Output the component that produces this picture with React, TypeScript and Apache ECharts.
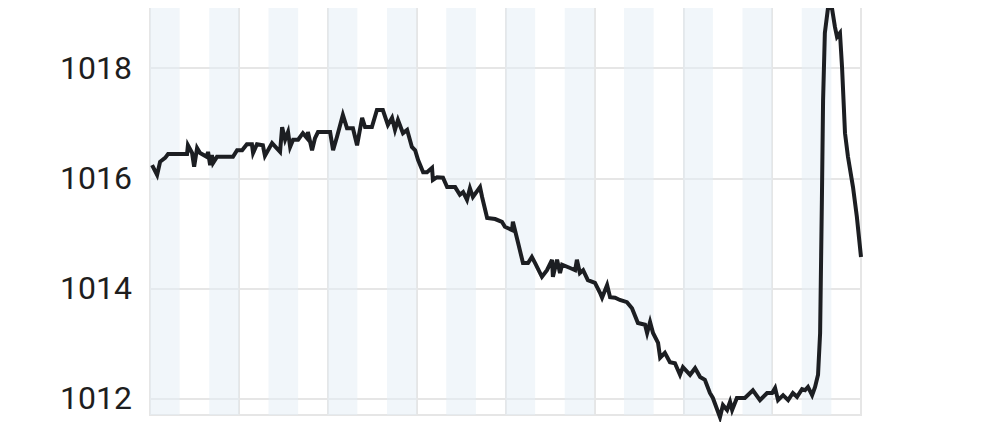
import React, { useEffect, useRef } from "react";
import * as echarts from "echarts";

// Hours since start of the 24-hour window
const hours: number[] = [
  0.07, 0.24, 0.34, 0.51, 0.61, 0.74, 1.25, 1.28, 1.42, 1.49, 1.59, 1.69, 1.92, 1.96, 2.03, 2.09, 2.13, 2.26,
  2.8, 2.94, 3.11, 3.27, 3.44, 3.48, 3.61, 3.81, 3.88, 4.12, 4.39, 4.46, 4.56, 4.66, 4.73, 4.83, 5.0, 5.16,
  5.3, 5.33, 5.47, 5.57, 5.67, 6.08, 6.18, 6.31, 6.51, 6.65, 6.85, 6.99, 7.16, 7.26, 7.49, 7.66, 7.86, 8.03,
  8.17, 8.27, 8.37, 8.54, 8.68, 8.84, 8.95, 9.05, 9.22, 9.35, 9.52, 9.55, 9.69, 9.89, 10.03, 10.3, 10.46,
  10.57, 10.7, 10.8, 10.9, 11.14, 11.21, 11.38, 11.65, 11.88, 11.98, 12.22, 12.25, 12.42, 12.59, 12.76,
  12.89, 13.0, 13.23, 13.4, 13.57, 13.6, 13.74, 13.84, 13.91, 14.18, 14.35, 14.41, 14.51, 14.62, 14.78,
  15.02, 15.19, 15.26, 15.43, 15.53, 15.7, 15.86, 16.1, 16.27, 16.47, 16.71, 16.78, 16.88, 16.98, 17.15,
  17.22, 17.38, 17.55, 17.72, 17.89, 17.99, 18.23, 18.4, 18.57, 18.73, 18.9, 19.0, 19.24, 19.34, 19.48,
  19.58, 19.65, 19.81, 20.08, 20.35, 20.59, 20.83, 21.0, 21.1, 21.2, 21.37, 21.54, 21.7, 21.84, 22.01,
  22.11, 22.21, 22.35, 22.45, 22.55, 22.62, 22.68, 22.72, 22.78, 22.89, 23.02, 23.12, 23.19, 23.29, 23.36,
  23.46, 23.56, 23.73, 23.86, 24.0,
];

// Pressure (hPa)
const pressure: number[] = [
  1016.24, 1016.06, 1016.3, 1016.37, 1016.44, 1016.44, 1016.44, 1016.6, 1016.46, 1016.21, 1016.55, 1016.46,
  1016.39, 1016.48, 1016.24, 1016.42, 1016.28, 1016.39, 1016.39, 1016.51, 1016.51, 1016.62, 1016.62, 1016.46,
  1016.62, 1016.6, 1016.41, 1016.64, 1016.48, 1016.93, 1016.7, 1016.84, 1016.57, 1016.7, 1016.7, 1016.82,
  1016.73, 1016.84, 1016.51, 1016.73, 1016.84, 1016.84, 1016.51, 1016.75, 1017.15, 1016.91, 1016.91, 1016.6,
  1017.1, 1016.93, 1016.93, 1017.24, 1017.24, 1016.97, 1017.1, 1016.88, 1017.06, 1016.82, 1016.88, 1016.57,
  1016.51, 1016.33, 1016.11, 1016.11, 1016.19, 1015.97, 1016.02, 1016.01, 1015.84, 1015.84, 1015.7, 1015.75,
  1015.61, 1015.82, 1015.66, 1015.84, 1015.66, 1015.28, 1015.26, 1015.21, 1015.12, 1015.06, 1015.21, 1014.84,
  1014.46, 1014.46, 1014.57, 1014.46, 1014.21, 1014.33, 1014.52, 1014.21, 1014.52, 1014.28, 1014.43, 1014.37,
  1014.33, 1014.52, 1014.28, 1014.33, 1014.15, 1014.1, 1013.92, 1013.83, 1014.06, 1013.84, 1013.83, 1013.79,
  1013.75, 1013.64, 1013.37, 1013.34, 1013.19, 1013.39, 1013.19, 1013.01, 1012.74, 1012.83, 1012.66, 1012.64,
  1012.43, 1012.57, 1012.43, 1012.55, 1012.39, 1012.34, 1012.1, 1012.01, 1011.66, 1011.88, 1011.79, 1011.94,
  1011.79, 1012.01, 1012.01, 1012.15, 1011.97, 1012.1, 1012.1, 1012.19, 1011.97, 1012.06, 1011.97, 1012.1,
  1012.03, 1012.17, 1012.15, 1012.21, 1012.06, 1012.21, 1012.43, 1013.19, 1015.61, 1017.42, 1018.64, 1019.11,
  1019.09, 1018.75, 1018.57, 1018.64, 1018.02, 1016.82, 1016.39, 1015.84, 1015.3, 1014.57,
];

// Start hours of the shaded one-hour bands
const shadedHours: number[] = [0, 2, 4, 6, 8, 10, 12, 14, 16, 18, 20, 22];

export default function App() {
  const ref = useRef<HTMLDivElement>(null);

  useEffect(() => {
    if (!ref.current) return;
    const chart = echarts.init(ref.current, undefined, { renderer: "svg" });
    const data = hours.map((h, i) => [h, pressure[i]]);
    chart.setOption({
      animation: false,
      backgroundColor: "#ffffff",
      grid: {
        left: 150,
        right: 139,
        top: 6,
        bottom: 15,
        show: true,
        borderColor: "#e6e6e6",
        borderWidth: 2,
        backgroundColor: "#ffffff",
      },
      xAxis: {
        type: "value",
        min: 0,
        max: 24,
        interval: 3,
        axisLabel: { show: false },
        axisLine: { show: false },
        axisTick: { show: false },
        splitLine: { show: true, lineStyle: { color: "#e6e6e6", width: 2 } },
      },
      yAxis: {
        type: "value",
        min: 1011.7,
        max: 1019.13,
        splitNumber: 4,
        minInterval: 2,
        maxInterval: 2,
        axisLine: { show: false },
        axisTick: { show: false },
        axisLabel: {
          show: true,
          margin: 18,
          fontSize: 32,
          fontWeight: "normal",
          fontFamily: "Roboto",
          color: "#1e1e1e",
          showMinLabel: false,
          showMaxLabel: false,
          formatter: (v: number) => (Math.abs(v % 2) < 1e-6 ? String(v) : ""),
        },
        splitLine: { show: true, lineStyle: { color: "#e6e6e6", width: 2 } },
      },
      series: [
        {
          type: "line",
          data,
          showSymbol: false,
          symbol: "none",
          clip: false,
          lineStyle: { color: "#1c1e22", width: 4, join: "miter" },
          markArea: {
            silent: true,
            itemStyle: { color: "rgba(228,237,246,0.5)" },
            data: shadedHours.map((h) => [{ xAxis: h }, { xAxis: h + 1 }]),
          },
          z: 3,
        },
      ],
    });
    return () => chart.dispose();
  }, []);

  return <div ref={ref} style={{ width: 1000, height: 430, margin: -8 }} />;
}
